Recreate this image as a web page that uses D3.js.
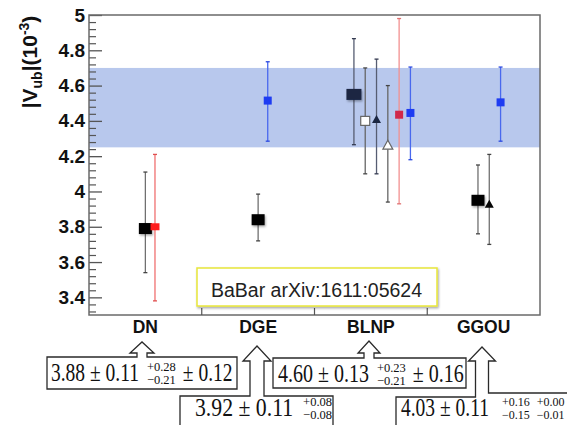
<!DOCTYPE html>
<html><head><meta charset="utf-8">
<script src="https://cdn.jsdelivr.net/npm/d3@7"></script>
<style>body{margin:0;background:#fff} svg{display:block}</style>
</head><body><svg id="c" width="567" height="425"></svg>
<script>
// ---------------- data ----------------
const categories = ["DN", "DGE", "BLNP", "GGOU"];
const yMajorTicks = [3.4, 3.6, 3.8, 4.0, 4.2, 4.4, 4.6, 4.8, 5.0];
const yTickLabels = ["3.4", "3.6", "3.8", "4", "4.2", "4.4", "4.6", "4.8", "5"];
const bandLow = 4.25;
const bandHigh = 4.70;

const pointCategory = ["DN", "DN", "DGE", "DGE", "BLNP", "BLNP", "BLNP", "BLNP", "BLNP", "BLNP", "GGOU", "GGOU", "GGOU"];
const pointDodge    = [0, 0.85, 0, 0.85, -1.5, -0.5, 0.5, 1.5, 2.5, 3.5, -0.5, 0.5, 1.5];
const pointValue    = [3.79, 3.80, 3.84, 4.515, 4.55, 4.40, 4.41, 4.265, 4.435, 4.445, 3.95, 3.93, 4.505];
const pointLow      = [3.54, 3.38, 3.72, 4.285, 4.265, 4.10, 4.10, 3.94, 3.93, 4.18, 3.76, 3.70, 4.285];
const pointHigh     = [4.11, 4.21, 3.985, 4.735, 4.866, 4.70, 4.75, 4.60, 4.98, 4.705, 4.15, 4.21, 4.705];
const pointMarker   = ["bigsq", "sq", "bigsq", "sq", "bigsq", "opensq", "tri", "opentri", "sq", "sq", "bigsq", "tri", "sq"];
const pointStyle    = ["black", "red", "black", "blue", "navy", "open", "navy", "open", "crimson", "blue", "black", "black", "blue"];

const labelText = "BaBar arXiv:1611:05624";

const calloutCategory = ["DN", "DGE", "BLNP", "GGOU"];
const calloutCentral  = ["3.88", "3.92", "4.60", "4.03"];
const calloutStat     = ["0.11", "0.11", "0.13", "0.11"];
const calloutUp       = [["+0.28"], ["+0.08"], ["+0.23"], ["+0.16", "+0.00"]];
const calloutDown     = [["\u22120.21"], ["\u22120.08"], ["\u22120.21"], ["\u22120.15", "\u22120.01"]];
const calloutTail     = ["\u00b1 0.12", "", "\u00b1 0.16", ""];

// ---------------- styles / layout ----------------
const styles = {
  black:   {fill: "#050505", stroke: "none", bar: "#707070", cap: "#444"},
  red:     {fill: "#ff1c1c", stroke: "none", bar: "#f07070", cap: "#e05050"},
  blue:    {fill: "#1e3cf2", stroke: "none", bar: "#4868ee", cap: "#2a48e0"},
  navy:    {fill: "#1b2642", stroke: "none", bar: "#565d72", cap: "#333a50"},
  crimson: {fill: "#d0284a", stroke: "none", bar: "#f29090", cap: "#e07070"},
  open:    {fill: "#ffffff", stroke: "#666", bar: "#666", cap: "#444"}
};
const markerSize = {bigsq: [13, 11], sq: [8, 8], opensq: [9, 9], tri: [9, 8], opentri: [10, 9]};

const W = 567, H = 425;
const plot = {left: 89, right: 540, top: 15, bottom: 315};

const svg = d3.select("#c");
const defs = svg.append("defs");
const f = defs.append("filter").attr("id", "sh").attr("x", "-50%").attr("y", "-50%").attr("width", "200%").attr("height", "200%");
f.append("feDropShadow").attr("dx", 1).attr("dy", 1.5).attr("stdDeviation", 1.2).attr("flood-color", "#000").attr("flood-opacity", 0.35);

svg.append("rect").attr("width", W).attr("height", H).attr("fill", "#fff");

const y = d3.scaleLinear().domain([3.3, 5.0]).range([plot.bottom, plot.top]);
const x = d3.scaleBand().domain(categories).range([plot.left, plot.right]);
const dodge = d3.scaleLinear().domain([0, 1]).range([0, 11.3]);

// band
svg.append("rect")
  .attr("x", plot.left).attr("width", plot.right - plot.left)
  .attr("y", y(bandHigh)).attr("height", y(bandLow) - y(bandHigh))
  .attr("fill", "#b8c8ed");

// minor ticks
const minor = d3.range(3.32, 4.99, 0.04).map(v => +v.toFixed(2)).filter(v => !yMajorTicks.some(m => Math.abs(m - v) < 1e-6));
svg.append("g").attr("transform", `translate(${plot.left},0)`)
  .call(d3.axisLeft(y).tickValues(minor).tickSize(-7).tickSizeOuter(0).tickFormat(""))
  .call(g => g.select(".domain").remove())
  .call(g => g.selectAll("line").attr("stroke", "#555").attr("stroke-width", 1.2));

// major ticks + labels
svg.append("g").attr("transform", `translate(${plot.left},0)`)
  .call(d3.axisLeft(y).tickValues(yMajorTicks).tickSize(-13).tickSizeOuter(0).tickPadding(4)
    .tickFormat((d, i) => yTickLabels[i]))
  .call(g => g.select(".domain").remove())
  .call(g => g.selectAll("line").attr("stroke", "#555").attr("stroke-width", 1.3))
  .call(g => g.selectAll("text").attr("fill", "#111").attr("font-family", "Liberation Sans, Arial, sans-serif")
    .attr("font-weight", "bold").attr("font-size", 19));

// frame
svg.append("rect").attr("x", plot.left).attr("y", plot.top)
  .attr("width", plot.right - plot.left).attr("height", plot.bottom - plot.top)
  .attr("fill", "none").attr("stroke", "#6a6a6a").attr("stroke-width", 1.5);

// x axis labels
svg.append("g").attr("transform", `translate(0,${plot.bottom})`)
  .call(d3.axisBottom(x).tickSize(0).tickPadding(6))
  .call(g => g.select(".domain").remove())
  .call(g => g.selectAll("text").attr("fill", "#111").attr("font-family", "Liberation Sans, Arial, sans-serif")
    .attr("font-weight", "bold").attr("font-size", 17.5));
// category boundary ticks
svg.append("g").selectAll("line").data(categories.slice(1)).join("line")
  .attr("x1", d => x(d)).attr("x2", d => x(d))
  .attr("y1", plot.bottom).attr("y2", plot.bottom - 7)
  .attr("stroke", "#555").attr("stroke-width", 1.2);

// y axis title
const yt = svg.append("text")
  .attr("transform", "translate(37,62) rotate(-90)")
  .attr("text-anchor", "middle")
  .attr("font-family", "Liberation Sans, Arial, sans-serif")
  .attr("font-weight", "bold").attr("font-size", 21).attr("fill", "#111");
yt.append("tspan").text("|V");
yt.append("tspan").attr("font-size", 14).attr("dy", 5).text("ub");
yt.append("tspan").attr("dy", -5).text("|(10");
yt.append("tspan").attr("font-size", 14).attr("dy", -8).text("-3");
yt.append("tspan").attr("dy", 8).text(")");

// points
const pts = pointValue.map((v, i) => ({
  cat: pointCategory[i], v, lo: pointLow[i], hi: pointHigh[i],
  m: pointMarker[i], s: styles[pointStyle[i]], dx: pointDodge[i], navy: pointStyle[i] === "navy"
}));
const px = d => x(d.cat) + x.bandwidth() / 2 + dodge(d.dx);

const gp = svg.append("g");
pts.forEach(d => {
  const cx = px(d);
  gp.append("line").attr("x1", cx).attr("x2", cx).attr("y1", y(d.hi)).attr("y2", y(d.lo))
    .attr("stroke", d.s.bar).attr("stroke-width", 1.3);
  [d.hi, d.lo].forEach(e => gp.append("line").attr("x1", cx - 2).attr("x2", cx + 2)
    .attr("y1", y(e)).attr("y2", y(e)).attr("stroke", d.s.cap).attr("stroke-width", 1.3));
});
pts.forEach(d => {
  const cx = px(d), cy = y(d.v);
  let [w, h] = markerSize[d.m];
  if (d.m === "bigsq" && d.navy) { w = 15; h = 11; }
  if (d.m === "sq" && d.s === styles.red) { w = 9; h = 7; }
  if (d.m === "bigsq" || d.m === "sq" || d.m === "opensq") {
    gp.append("rect").attr("x", cx - w / 2).attr("y", cy - h / 2).attr("width", w).attr("height", h)
      .attr("fill", d.s.fill).attr("stroke", d.s.stroke).attr("stroke-width", 1.2)
      .attr("filter", d.m === "bigsq" ? "url(#sh)" : null);
  } else {
    const pth = `M${cx - w / 2},${cy + h / 2}L${cx},${cy - h / 2}L${cx + w / 2},${cy + h / 2}Z`;
    gp.append("path").attr("d", pth).attr("fill", d.s.fill)
      .attr("stroke", d.s.stroke).attr("stroke-width", 1.2);
  }
});

// label box
const lb = svg.append("g");
lb.append("rect").attr("x", 197).attr("y", 268).attr("width", 240).attr("height", 38)
  .attr("fill", "#fff").attr("stroke", "#e8e63a").attr("stroke-width", 1.5).attr("filter", "url(#sh)");
lb.append("text").attr("x", 211).attr("y", 297).attr("font-family", "Liberation Sans, Arial, sans-serif")
  .attr("font-size", 19.5).attr("fill", "#222").text(labelText);

// callouts
const calloutLayout = [
  {left: 47, right: 237, top: 357, bottom: 389, apex: 142, apexY: 342, headY: 353, head: 12, shaft: 5, closed: true, padL: 4, base: 24, sx: 0.78, gap1: 8, gap2: 7, colGap: 6, sub: 12.5},
  {left: 180, right: 333, top: 396, bottom: 450, apex: 257, apexY: 346, headY: 361, head: 14, shaft: 7, closed: false, padL: 15, base: 20, sx: 0.87, gap1: 10, gap2: 7, colGap: 6, sub: 12.5},
  {left: 273, right: 466, top: 358, bottom: 388, apex: 369, apexY: 341, headY: 353, head: 11, shaft: 5, closed: true, padL: 5, base: 24, sx: 0.8, gap1: 8, gap2: 7, colGap: 6, sub: 12.5},
  {left: 396, right: null, top: 397, bottom: 450, apex: 482, apexY: 347, headY: 361, head: 13.5, shaft: 6.5, closed: false, padL: 5, base: 19, sx: 0.78, gap1: 13, gap2: 0, colGap: 7, sub: 12, jog: 393}
];
const gc = svg.append("g");
calloutCategory.forEach((c, i) => {
  const L = calloutLayout[i];
  const a = L.apex, sl = a - L.shaft, sr = a + L.shaft;
  let d;
  if (L.closed) {
    d = `M${L.left},${L.top}L${sl},${L.top}L${sl},${L.headY}L${a - L.head},${L.headY}L${a},${L.apexY}` +
        `L${a + L.head},${L.headY}L${sr},${L.headY}L${sr},${L.top}L${L.right},${L.top}L${L.right},${L.bottom}L${L.left},${L.bottom}Z`;
  } else if (L.right !== null) {
    d = `M${L.left},${L.bottom}L${L.left},${L.top}L${sl},${L.top}L${sl},${L.headY}L${a - L.head},${L.headY}L${a},${L.apexY}` +
        `L${a + L.head},${L.headY}L${sr},${L.headY}L${sr},${L.top}L${L.right},${L.top}L${L.right},${L.bottom}`;
  } else {
    d = `M${L.left},${L.bottom}L${L.left},${L.top}L${sl},${L.top}L${sl},${L.headY}L${a - L.head},${L.headY}L${a},${L.apexY}` +
        `L${a + L.head},${L.headY}L${sr},${L.headY}L${sr},${L.jog}L${W + 10},${L.jog}`;
  }
  gc.append("path").attr("d", d).attr("fill", "#fff").attr("stroke", "#2a2a2a").attr("stroke-width", 1.3);

  const serif = "Liberation Serif, Times New Roman, serif";
  const by = L.top + L.base;
  let cx = L.left + L.padL;
  const t1 = gc.append("text").attr("transform", `translate(${cx},${by}) scale(${L.sx},1)`)
    .attr("font-family", serif).attr("font-size", 25).attr("fill", "#111")
    .text(`${calloutCentral[i]} \u00b1 ${calloutStat[i]}`);
  cx += t1.node().getComputedTextLength() * L.sx + L.gap1;
  calloutUp[i].forEach((u, k) => {
    const tu = gc.append("text").attr("x", cx).attr("y", by - 10).attr("font-family", serif)
      .attr("font-size", L.sub).attr("fill", "#111").text(u);
    const td = gc.append("text").attr("x", cx).attr("y", by + 3).attr("font-family", serif)
      .attr("font-size", L.sub).attr("fill", "#111").text(calloutDown[i][k]);
    cx += Math.max(tu.node().getComputedTextLength(), td.node().getComputedTextLength()) + L.colGap;
  });
  cx += L.gap2 - L.colGap;
  if (calloutTail[i]) {
    gc.append("text").attr("transform", `translate(${cx},${by}) scale(${L.sx},1)`)
      .attr("font-family", serif).attr("font-size", 25).attr("fill", "#111")
      .text(calloutTail[i]);
  }
});
</script>
</body></html>
